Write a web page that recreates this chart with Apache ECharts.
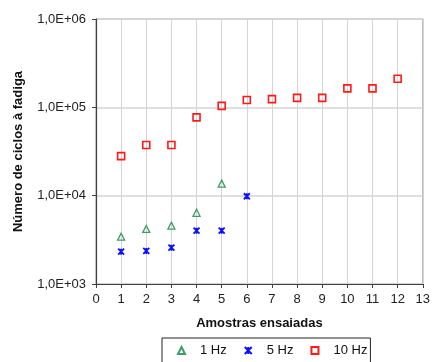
<!DOCTYPE html>
<html>
<head>
<meta charset="utf-8">
<script src="https://cdn.jsdelivr.net/npm/echarts@6/dist/echarts.min.js"></script>
<style>
  html, body { margin: 0; padding: 0; background: #fff; }
  #chart { width: 433px; height: 362px; }
</style>
</head>
<body>
<div id="chart"></div>
<script>
// Fatigue life per tested sample, at three loading frequencies
const samples1Hz = [1, 2, 3, 4, 5];
const cycles1Hz = [3430, 4200, 4570, 6400, 13700];

const samples5Hz = [1, 2, 3, 4, 5, 6];
const cycles5Hz = [2320, 2370, 2580, 4020, 4020, 9850];

const samples10Hz = [1, 2, 3, 4, 5, 6, 7, 8, 9, 10, 11, 12];
const cycles10Hz = [28000, 37500, 37500, 77000, 104000, 121000, 124000, 128000, 128000, 164000, 164000, 211000];

const seriesNames = ['1 Hz', '5 Hz', '10 Hz'];
const xTitle = 'Amostras ensaiadas';
const yTitle = 'Número de ciclos à fadiga';

const pairs = (xs, ys) => xs.map((x, i) => [x, ys[i]]);

const font = 'Liberation Sans, Arial, sans-serif';
const star = 'path://M0,0L10,10M10,0L0,10M5,0L5,10';

const chart = echarts.init(document.getElementById('chart'), null, { renderer: 'canvas' });
chart.setOption({
  animation: false,
  backgroundColor: '#ffffff',
  grid: {
    left: 96, right: 6, top: 19, bottom: 78,
    show: true, borderColor: '#a6a6a6', borderWidth: 1
  },
  xAxis: {
    type: 'value', min: 0, max: 13, interval: 1,
    name: xTitle, nameLocation: 'middle', nameGap: 33,
    nameTextStyle: { fontFamily: font, fontSize: 13, fontWeight: 'bold', color: '#111' },
    axisLine: { lineStyle: { color: '#404040', width: 1.2 } },
    axisTick: { show: true, length: 4, lineStyle: { color: '#404040' } },
    axisLabel: { fontFamily: font, fontSize: 13, color: '#222', margin: 9 },
    splitLine: { show: true, lineStyle: { color: '#d4d4d4', width: 1 } }
  },
  yAxis: {
    type: 'log', logBase: 10, min: 1000, max: 1000000,
    name: yTitle, nameLocation: 'middle', nameGap: 71, nameRotate: 90,
    nameTextStyle: { fontFamily: font, fontSize: 13, fontWeight: 'bold', color: '#111' },
    axisLine: { show: true, lineStyle: { color: '#404040', width: 1.2 } },
    axisTick: { show: true, length: 4, lineStyle: { color: '#404040' } },
    axisLabel: {
      fontFamily: font, fontSize: 13, color: '#222', margin: 10,
      formatter: v => '1,0E+' + String(Math.round(Math.log10(v))).padStart(2, '0')
    },
    minorTick: { show: false },
    splitLine: { show: true, lineStyle: { color: '#d4d4d4', width: 1.5 } }
  },
  legend: {
    left: 162, top: 338,
    orient: 'horizontal',
    itemWidth: 7, itemHeight: 7, itemGap: 17,
    padding: [6, 3, 14, 15],
    borderColor: '#222', borderWidth: 1,
    textStyle: { fontFamily: font, fontSize: 13, color: '#111', padding: [0, 0, 0, 10] },
    data: seriesNames
  },
  series: [
    {
      name: seriesNames[0], type: 'scatter', symbol: 'triangle', symbolSize: 7,
      itemStyle: { color: 'rgba(0,0,0,0)', borderColor: '#3c9d66', borderWidth: 1.3, opacity: 1 },
      data: pairs(samples1Hz, cycles1Hz)
    },
    {
      name: seriesNames[1], type: 'scatter', symbol: star, symbolSize: 6,
      itemStyle: { color: 'rgba(0,0,0,0)', borderColor: '#1010ff', borderWidth: 1.8, opacity: 1 },
      data: pairs(samples5Hz, cycles5Hz)
    },
    {
      name: seriesNames[2], type: 'scatter', symbol: 'rect', symbolSize: 7,
      itemStyle: { color: 'rgba(0,0,0,0)', borderColor: '#ff1a1a', borderWidth: 1.6, opacity: 1 },
      data: pairs(samples10Hz, cycles10Hz)
    }
  ]
});
</script>
</body>
</html>
